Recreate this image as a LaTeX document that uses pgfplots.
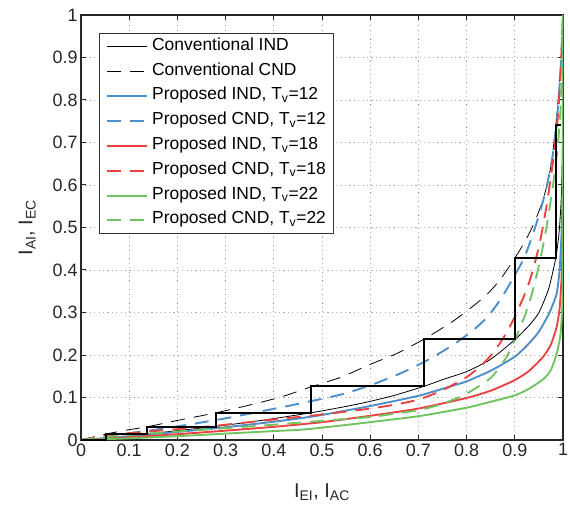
\documentclass[border=0pt]{standalone}
\usepackage{pgfplots}
\pgfplotsset{compat=1.18}
\usepackage{fontspec}
\setmainfont{Liberation Sans}
\definecolor{cblue}{RGB}{78,142,202}
\definecolor{cred}{RGB}{236,66,66}
\definecolor{cgreen}{RGB}{112,196,96}
\begin{document}
\begin{tikzpicture}
\path[use as bounding box] (-81bp,-66bp) rectangle (489bp,440bp);
\begin{axis}[
  at={(0,0)}, anchor=south west,
  scale only axis, width=482bp, height=425bp,
  xmin=0, xmax=1, ymin=0, ymax=1,
  xtick={0,0.1,...,1.01}, ytick={0,0.1,...,1.01},
  xticklabels={0,0.1,0.2,0.3,0.4,0.5,0.6,0.7,0.8,0.9,1},
  yticklabels={0,0.1,0.2,0.3,0.4,0.5,0.6,0.7,0.8,0.9,1},
  tick align=inside, xtick pos=both, ytick pos=both,
  major tick length=5bp,
  tick style={black!85, line width=1bp},
  axis line style={black!85, line width=1.2bp},
  grid=major,
  grid style={gray!65, line width=0.8bp, dash pattern=on 1.2bp off 3.2bp},
  /pgf/number format/assume math mode=true,
  ticklabel style={font=\fontsize{18}{20}\selectfont, black!85},
  xlabel={I\textsubscript{EI}, I\textsubscript{AC}},
  ylabel={I\textsubscript{AI}, I\textsubscript{EC}},
  label style={font=\fontsize{20}{22}\selectfont, black!85},
  xlabel style={yshift=-21bp},
  ylabel style={yshift=10bp},
  legend cell align=left,
  legend image code/.code={\draw[#1] (0bp,0bp) -- (40bp,0bp);},
  legend style={at={(0.037,0.958)}, anchor=north west,
    font=\fontsize{17.5}{19}\selectfont, draw=black!80, line width=0.8bp,
    nodes={inner sep=1bp, text height=11bp, text depth=4bp},
    column sep=3bp,
    row sep=7.8bp, inner xsep=7bp, inner ysep=5bp},
]
% Conventional IND
\addplot[black, line width=0.8bp, smooth, tension=0.4] coordinates {
(0.03,0) (0.09,0.007) (0.137,0.014) (0.2,0.022) (0.28,0.032) (0.38,0.047) (0.477,0.064) (0.55,0.079) (0.6,0.091) (0.65,0.105) (0.711,0.126) (0.75,0.142) (0.8,0.161) (0.85,0.19) (0.9,0.236) (0.93,0.27) (0.95,0.30) (0.97,0.355) (0.985,0.428) (0.992,0.49) (0.996,0.56) (0.998,0.63) (0.9993,0.74) (0.9998,0.85) (1,1)};
\addlegendentry{Conventional IND}
% Conventional CND
\addplot[black, line width=0.8bp, dash pattern=on 14bp off 9bp, smooth, tension=0.4] coordinates {
(0,0) (0.052,0.014) (0.098,0.024) (0.137,0.031) (0.2,0.046) (0.28,0.064) (0.36,0.085) (0.42,0.103) (0.477,0.125) (0.54,0.148) (0.6,0.178) (0.656,0.204) (0.711,0.237) (0.766,0.275) (0.8,0.303) (0.84,0.34) (0.87,0.378) (0.9,0.428) (0.92,0.465) (0.94,0.51) (0.96,0.57) (0.975,0.645) (0.985,0.74) (0.992,0.83) (0.997,0.92) (1,1)};
\addlegendentry{Conventional CND}
% Proposed IND 12
\addplot[cblue, line width=1.9bp, smooth, tension=0.4] coordinates {
(0,0) (0.1,0.009) (0.2,0.019) (0.3,0.030) (0.4,0.043) (0.454,0.051) (0.5,0.059) (0.6,0.080) (0.7,0.104) (0.766,0.126) (0.8,0.138) (0.85,0.163) (0.9,0.196) (0.93,0.228) (0.95,0.255) (0.97,0.295) (0.98,0.322) (0.987,0.345) (0.993,0.40) (0.997,0.486) (0.999,0.58) (0.9997,0.7) (1,0.85) (1,1)};
\addlegendentry{Proposed IND, T\textsubscript{v}=12}
% Proposed CND 12
\addplot[cblue, line width=1.9bp, dash pattern=on 14bp off 9bp, smooth, tension=0.4] coordinates {
(0,0) (0.05,0.009) (0.1,0.016) (0.153,0.024) (0.222,0.036) (0.305,0.052) (0.367,0.066) (0.429,0.080) (0.5,0.097) (0.55,0.11) (0.613,0.134) (0.669,0.160) (0.724,0.191) (0.772,0.224) (0.81,0.255) (0.842,0.288) (0.87,0.33) (0.895,0.378) (0.92,0.43) (0.945,0.51) (0.965,0.59) (0.98,0.68) (0.99,0.79) (0.996,0.89) (1,1)};
\addlegendentry{Proposed CND, T\textsubscript{v}=12}
% Proposed IND 18
\addplot[cred, line width=1.9bp, smooth, tension=0.4] coordinates {
(0,0) (0.1,0.0064) (0.2,0.0136) (0.3,0.022) (0.4,0.031) (0.5,0.042) (0.6,0.057) (0.7,0.074) (0.8,0.099) (0.85,0.116) (0.9,0.141) (0.93,0.163) (0.959,0.196) (0.975,0.225) (0.987,0.267) (0.993,0.31) (0.997,0.38) (0.999,0.45) (0.9998,0.6) (1,0.8) (1,1)};
\addlegendentry{Proposed IND, T\textsubscript{v}=18}
% Proposed CND 18
\addplot[cred, line width=1.9bp, dash pattern=on 14bp off 9bp, smooth, tension=0.4] coordinates {
(0,0) (0.05,0.01) (0.13,0.019) (0.257,0.031) (0.382,0.046) (0.5,0.06) (0.544,0.066) (0.6,0.074) (0.65,0.083) (0.7,0.095) (0.75,0.117) (0.8,0.148) (0.83,0.175) (0.855,0.205) (0.88,0.247) (0.9,0.29) (0.925,0.355) (0.94,0.41) (0.952,0.465) (0.965,0.545) (0.973,0.604) (0.982,0.68) (0.99,0.77) (0.995,0.86) (1,1)};
\addlegendentry{Proposed CND, T\textsubscript{v}=18}
% Proposed IND 22
\addplot[cgreen, line width=1.9bp, smooth, tension=0.4] coordinates {
(0,0) (0.1,0.004) (0.2,0.009) (0.3,0.015) (0.4,0.021) (0.454,0.024) (0.5,0.029) (0.6,0.042) (0.7,0.056) (0.8,0.076) (0.85,0.09) (0.9,0.105) (0.93,0.121) (0.959,0.143) (0.975,0.165) (0.987,0.204) (0.995,0.25) (0.999,0.33) (0.9998,0.45) (1,0.7) (1,1)};
\addlegendentry{Proposed IND, T\textsubscript{v}=22}
% Proposed CND 22
\addplot[cgreen, line width=1.9bp, dash pattern=on 14bp off 9bp, smooth, tension=0.4] coordinates {
(0,0) (0.05,0.007) (0.1,0.012) (0.2,0.02) (0.3,0.028) (0.4,0.036) (0.454,0.041) (0.5,0.045) (0.6,0.054) (0.65,0.062) (0.7,0.07) (0.75,0.085) (0.8,0.109) (0.85,0.146) (0.88,0.19) (0.9,0.235) (0.92,0.29) (0.935,0.342) (0.95,0.41) (0.96,0.465) (0.97,0.53) (0.98,0.605) (0.988,0.68) (0.994,0.76) (0.998,0.86) (1,1)};
\addlegendentry{Proposed CND, T\textsubscript{v}=22}
% Trajectory
\addplot[black, line width=2bp, forget plot] coordinates {
(0,0) (0.052,0) (0.052,0.014) (0.137,0.014) (0.137,0.031) (0.28,0.031) (0.28,0.064) (0.477,0.064) (0.477,0.126) (0.711,0.126) (0.711,0.237) (0.9,0.237) (0.9,0.428) (0.985,0.428) (0.985,0.74) (0.996,0.74)};
\end{axis}
\end{tikzpicture}
\end{document}
